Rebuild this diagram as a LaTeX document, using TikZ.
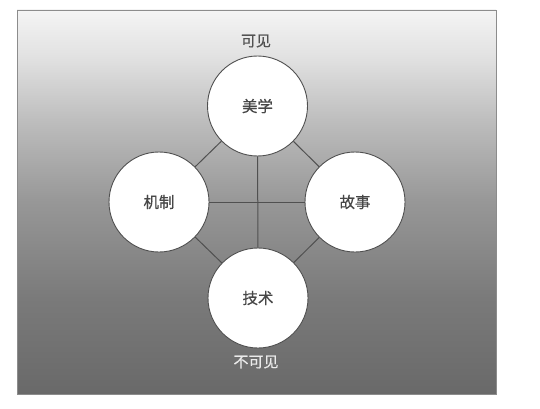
\documentclass[tikz,border=0pt]{standalone}
\usepackage{fontspec}
\newfontfamily\cjk[FakeBold=0.6]{Noto Sans CJK SC}
\definecolor{shA}{HTML}{F4F4F4}
\definecolor{shB}{HTML}{E2E2E2}
\definecolor{shC}{HTML}{BBBBBB}
\definecolor{shD}{HTML}{979797}
\definecolor{shE}{HTML}{7A7A7A}
\definecolor{shF}{HTML}{696969}
\definecolor{inkline}{HTML}{505050}
\pgfdeclareverticalshading{panelfade}{100bp}{%
  color(0bp)=(shF); color(25bp)=(shF); color(37.5bp)=(shE);
  color(50bp)=(shD); color(60bp)=(shC); color(69bp)=(shB);
  color(75bp)=(shA); color(100bp)=(shA)}
\begin{document}
\begin{tikzpicture}[x=1pt,y=-1pt,
  hub/.style={circle, draw=inkline, line width=0.9pt, fill=white,
    minimum size=100pt, inner sep=0pt,
    font=\cjk\fontsize{15.5}{16}\selectfont, text=black!72},
  link/.style={draw=inkline, line width=1pt},
  caption/.style={font=\cjk\fontsize{15}{16}\selectfont, inner sep=0pt}]
\useasboundingbox (0,0) rectangle (540,409);
% shaded panel
\shade[shading=panelfade, draw=black!45, line width=0.8pt] (17,10) rectangle (496,394);
% the four circles
\node[hub] (mei)  at (257.5,106) {美学};
\node[hub] (ji)   at (159,202)   {机制};
\node[hub] (gu)   at (355,202)   {故事};
\node[hub] (tech) at (258,298)   {技术};
% connectors
\draw[link] (mei) -- (ji);
\draw[link] (mei) -- (gu);
\draw[link] (tech) -- (ji);
\draw[link] (tech) -- (gu);
\draw[link] (mei) -- (tech);
\draw[link] (ji) -- (gu);
% labels
\node[caption, text=black!68] (vis) at (256,41) {可见};
\node[caption, text=white!92!black] (invis) at (256,362) {不可见};
\end{tikzpicture}
\end{document}
